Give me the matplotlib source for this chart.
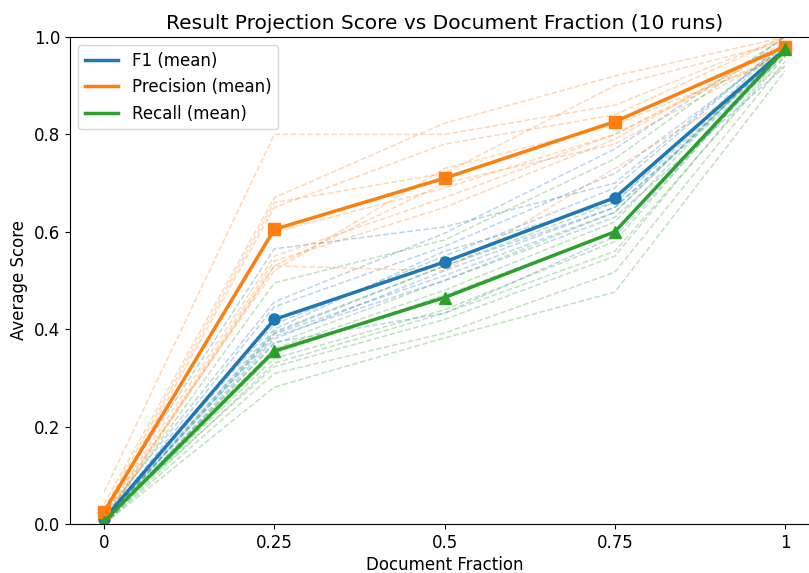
import matplotlib
matplotlib.use('Agg')
import matplotlib.pyplot as plt
import numpy as np

# Document fractions on the x axis
fractions = [0, 0.25, 0.5, 0.75, 1]
tick_labels = ['0', '0.25', '0.5', '0.75', '1']

# Per-run scores (10 runs)
f1_runs = [
    [0.03, 0.565, 0.61, 0.70, 0.99],
    [0.02, 0.456, 0.597, 0.77, 1.00],
    [0.01, 0.446, 0.57, 0.72, 0.98],
    [0.01, 0.41, 0.55, 0.69, 0.99],
    [0.005, 0.40, 0.56, 0.66, 0.97],
    [0.01, 0.395, 0.53, 0.65, 0.96],
    [0.005, 0.39, 0.51, 0.64, 0.98],
    [0.01, 0.385, 0.50, 0.63, 0.94],
    [0.0, 0.38, 0.52, 0.65, 0.97],
    [0.0, 0.373, 0.433, 0.59, 0.97],
]
precision_runs = [
    [0.065, 0.80, 0.80, 0.86, 1.00],
    [0.04, 0.67, 0.823, 0.92, 1.00],
    [0.03, 0.66, 0.72, 0.90, 0.99],
    [0.02, 0.65, 0.78, 0.84, 1.00],
    [0.03, 0.60, 0.69, 0.80, 0.98],
    [0.02, 0.55, 0.67, 0.80, 0.97],
    [0.01, 0.54, 0.65, 0.79, 0.99],
    [0.01, 0.53, 0.52, 0.73, 0.94],
    [0.02, 0.52, 0.73, 0.82, 0.96],
    [0.005, 0.53, 0.70, 0.78, 0.97],
]
recall_runs = [
    [0.01, 0.495, 0.583, 0.75, 1.00],
    [0.005, 0.392, 0.53, 0.66, 0.99],
    [0.0, 0.37, 0.50, 0.64, 0.98],
    [0.01, 0.36, 0.48, 0.62, 0.99],
    [0.0, 0.35, 0.47, 0.60, 0.97],
    [0.005, 0.34, 0.44, 0.58, 0.98],
    [0.0, 0.33, 0.433, 0.56, 0.96],
    [0.01, 0.323, 0.42, 0.55, 0.97],
    [0.0, 0.309, 0.392, 0.517, 0.95],
    [0.0, 0.281, 0.382, 0.476, 0.93],
]

# Mean curves
f1_mean = [0.01, 0.42, 0.538, 0.67, 0.975]
precision_mean = [0.025, 0.605, 0.71, 0.826, 0.98]
recall_mean = [0.005, 0.355, 0.465, 0.60, 0.975]

fig = plt.figure(figsize=(8.09, 5.73), dpi=100)
ax = fig.add_axes([0.0865, 0.0855, 0.926, 0.85])

metrics = [
    ('F1', f1_runs, f1_mean, 'tab:blue', 'o'),
    ('Precision', precision_runs, precision_mean, 'tab:orange', 's'),
    ('Recall', recall_runs, recall_mean, 'tab:green', '^'),
]

# individual runs, faint dashed
for name, runs, mean, color, marker in metrics:
    for run in runs:
        ax.plot(fractions, run, linestyle='--', color=color, alpha=0.3, linewidth=1.1)

# mean lines (legend shows the line only), markers drawn on top
for name, runs, mean, color, marker in metrics:
    ax.plot(fractions, mean, color=color, linewidth=2.5, label=f'{name} (mean)')
    ax.plot(fractions, mean, color=color, marker=marker, linestyle='none', markersize=8)

ax.set_xlim(-0.05, 1.05)
ax.set_ylim(0, 1)
ax.set_xticks(fractions)
ax.set_xticklabels(tick_labels)
ax.tick_params(labelsize=12)
ax.set_xlabel('Document Fraction', fontsize=12, labelpad=3)
ax.set_ylabel('Average Score', fontsize=12)
ax.set_title('Result Projection Score vs Document Fraction (10 runs)', fontsize=14.5)
ax.legend(loc='upper left', fontsize=12)

plt.savefig('out.png', dpi=100)
